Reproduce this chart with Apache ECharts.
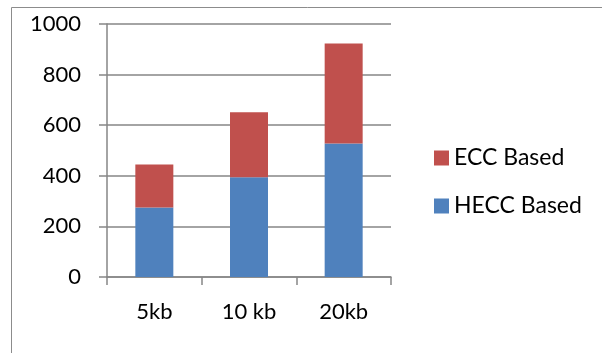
<!DOCTYPE html>
<html>
<head>
<meta charset="utf-8">
<script src="https://cdn.jsdelivr.net/npm/echarts@6/dist/echarts.min.js"></script>
<style>
  html, body { margin: 0; padding: 0; background: #fff; }
  #chart { width: 602px; height: 353px; }
</style>
</head>
<body>
<div id="chart"></div>
<script>
// Data
const categories = ['5kb', '10 kb', '20kb'];
const heccBased = [275, 394, 528];
const eccBased = [170, 257, 395];
const yTicks = [0, 200, 400, 600, 800, 1000];

const FONT = 'Lato';
const chart = echarts.init(document.getElementById('chart'), null, { renderer: 'canvas' });

chart.setOption({
  animation: false,
  backgroundColor: '#ffffff',
  textStyle: { fontFamily: FONT },
  graphic: [{
    type: 'rect',
    shape: { x: 11.5, y: 7.5, width: 620, height: 400 },
    style: { fill: 'none', stroke: '#8c8c8c', lineWidth: 1 },
    silent: true
  }],
  grid: { left: 107, top: 24, right: 211, bottom: 76, containLabel: false },
  legend: {
    orient: 'vertical',
    left: 434,
    top: 146,
    padding: 0,
    data: ['ECC Based', 'HECC Based'],
    itemWidth: 15,
    itemHeight: 15,
    itemGap: 24,
    icon: 'rect',
    textStyle: { fontFamily: FONT, fontSize: 23, lineHeight: 24, color: '#000', padding: [0, 0, 0, 0] }
  },
  xAxis: {
    type: 'category',
    data: categories,
    axisLine: { lineStyle: { color: '#868686', width: 1.5 } },
    axisTick: { show: true, length: 8, alignWithLabel: false, lineStyle: { color: '#868686', width: 1.5 } },
    axisLabel: { color: '#000', fontSize: 22, fontFamily: FONT, margin: 24 }
  },
  yAxis: {
    type: 'value',
    min: yTicks[0],
    max: yTicks[yTicks.length - 1],
    interval: 200,
    axisLine: { show: true, lineStyle: { color: '#868686', width: 1.5 } },
    axisTick: { show: true, length: 8, lineStyle: { color: '#868686', width: 1.5 } },
    axisLabel: { color: '#000', fontSize: 22, fontFamily: FONT, margin: 26, formatter: v => String(v) },
    splitLine: { show: true, lineStyle: { color: '#868686', width: 1.5 } }
  },
  series: [
    {
      name: 'HECC Based',
      type: 'bar',
      stack: 'total',
      barWidth: 38,
      data: heccBased,
      itemStyle: { color: '#4f81bd' }
    },
    {
      name: 'ECC Based',
      type: 'bar',
      stack: 'total',
      barWidth: 38,
      data: eccBased,
      itemStyle: { color: '#c0504d' }
    }
  ]
});
</script>
</body>
</html>
